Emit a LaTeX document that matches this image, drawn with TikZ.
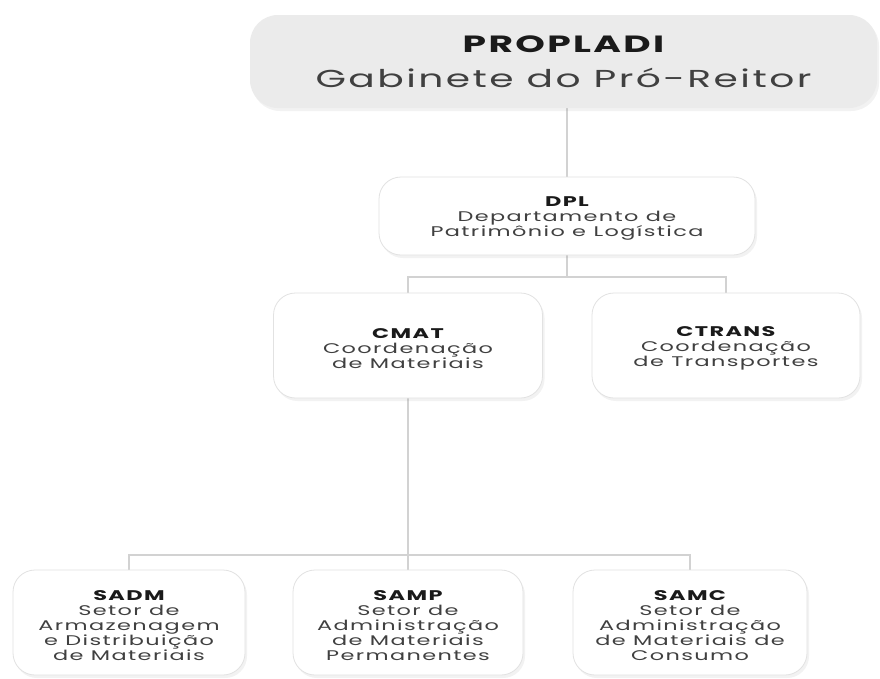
\documentclass[tikz,border=0pt]{standalone}
\usepackage{fontspec}
\setmainfont{Poppins}[FakeStretch=1.6, LetterSpace=10]
\usetikzlibrary{shadows,backgrounds}
\definecolor{boxline}{HTML}{E2E2E2}
\definecolor{bodytext}{HTML}{404040}
\definecolor{titletext}{HTML}{1A1A1A}
\definecolor{topfill}{HTML}{EBEBEB}
\definecolor{conncol}{HTML}{D2D2D2}
\newcommand{\firstline}[1]{\rule{0pt}{15.5pt}{\bfseries\color{titletext}#1}}
\begin{document}
\begin{tikzpicture}[x=1pt,y=-1pt,
  box/.style={rectangle, rounded corners=22pt, draw=boxline, line width=0.8pt, fill=white,
    align=center, text=bodytext, font=\fontsize{14}{15}\selectfont, inner sep=0pt,
    drop shadow={opacity=0.10, shadow xshift=2pt, shadow yshift=-3pt}},
  topbox/.style={rectangle, rounded corners=28pt, fill=topfill, align=center, text=bodytext,
    inner sep=0pt, drop shadow={opacity=0.10, shadow xshift=2pt, shadow yshift=-3pt}},
  conn/.style={draw=conncol, line width=2pt}]
\useasboundingbox (0,0) rectangle (880,678);
\node[topbox, minimum width=627pt, minimum height=93pt] (top) at (563.5,61.5)
  {{\fontsize{23.5}{28}\selectfont\bfseries\color{titletext}PROPLADI}\\[14pt]{\fontsize{24.5}{28}\selectfont Gabinete do Pró-Reitor}};
\node[box, minimum width=376pt, minimum height=78pt] (dpl) at (567,216)
  {\firstline{DPL}\\Departamento de\\Patrimônio e Logística};
\node[box, minimum width=269pt, minimum height=105pt] (cmat) at (408,345.5)
  {\firstline{CMAT}\\Coordenação\\de Materiais};
\node[box, minimum width=268pt, minimum height=105pt] (ctrans) at (726,345.5)
  {\firstline{CTRANS}\\Coordenação\\de Transportes};
\node[box, minimum width=232pt, minimum height=105pt] (sadm) at (129,622.5)
  {\firstline{SADM}\\Setor de\\Armazenagem\\e Distribuição\\de Materiais};
\node[box, minimum width=230pt, minimum height=105pt] (samp) at (408,622.5)
  {\firstline{SAMP}\\Setor de\\Administração\\de Materiais\\Permanentes};
\node[box, minimum width=234pt, minimum height=105pt] (samc) at (690,622.5)
  {\firstline{SAMC}\\Setor de\\Administração\\de Materiais de\\Consumo};
\coordinate (j1) at (567,277);
\coordinate (j2) at (408,555);
\begin{scope}[on background layer]
\fill[white] (0,0) rectangle (880,678);
\draw[conn] (top.south -| dpl.north) -- (dpl.north);
\draw[conn] (dpl.south) -- (j1);
\draw[conn] (cmat.north) -- (cmat.north |- j1) -- (ctrans.north |- j1) -- (ctrans.north);
\draw[conn] (cmat.south) -- (j2);
\draw[conn] (sadm.north) -- (sadm.north |- j2) -- (samc.north |- j2) -- (samc.north);
\draw[conn] (j2) -- (samp.north);
\end{scope}
\end{tikzpicture}
\end{document}
